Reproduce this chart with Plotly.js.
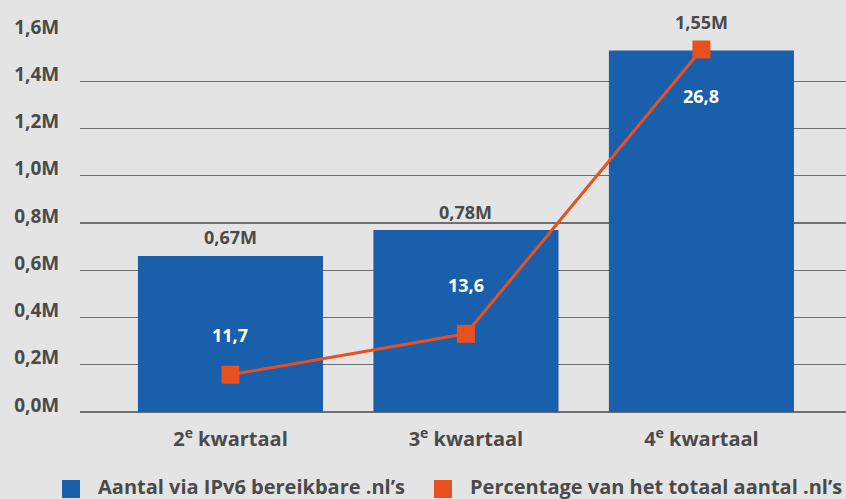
<!DOCTYPE html>
<html>
<head>
<meta charset="utf-8">
<script src="https://cdn.plot.ly/plotly-3.0.1.min.js"></script>
<style>
html,body{margin:0;padding:0;background:#e4e4e4;overflow:hidden;}
#chart{width:846px;height:499px;}
</style>
</head>
<body>
<div id="chart"></div>
<script>
// ---- data ----
const categories = ['2<sup>e</sup> kwartaal', '3<sup>e</sup> kwartaal', '4<sup>e</sup> kwartaal'];
const ipv6Millions = [0.66, 0.77, 1.53];          // bar heights
const countLabels = ['0,67M', '0,78M', '1,55M'];
const percentage = [11.7, 13.6, 26.8];
const percentLabels = ['11,7', '13,6', '26,8'];
const yTickVals = [0, 0.2, 0.4, 0.6, 0.8, 1.0, 1.2, 1.4, 1.6];
const yTickText = ['0,0M', '0,2M', '0,4M', '0,6M', '0,8M', '1,0M', '1,2M', '1,4M', '1,6M'];
const seriesNames = ["Aantal via IPv6 bereikbare .nl’s", "Percentage van het totaal aantal .nl’s"];

// ---- style ----
const BG = '#e4e4e4', BLUE = '#1a5fab', ORANGE = '#e8511f', TXT = '#4a4a4a', GRID = '#6e6e6e';
const FONT = 'Open Sans, sans-serif';
const countShift = [19, 18, 29];
const pctShift = [40, 49, -46];
const W = 846, H = 499, ML = 80, MR = 0, MT = 34, MB = 87;
const pw = W - ML - MR, ph = H - MT - MB;
const px = x => (x - ML) / pw;      // pixel -> paper (legend placement only)
const py = y => (H - MB - y) / ph;

const traces = [
  {type:'bar', x:categories, y:ipv6Millions, marker:{color:BLUE}, width:0.786,
   name:seriesNames[0], showlegend:false, hoverinfo:'skip'},
  {type:'scatter', mode:'lines+markers', x:categories, y:percentage, yaxis:'y2',
   name:seriesNames[1], line:{color:ORANGE, width:3}, marker:{color:ORANGE, symbol:'square', size:18},
   showlegend:false, hoverinfo:'skip', cliponaxis:false}
];

const annotations = [];
categories.forEach((c, i) => {
  annotations.push({x:c, y:ipv6Millions[i], xref:'x', yref:'y', text:countLabels[i],
    showarrow:false, yanchor:'middle', yshift:countShift[i],
    font:{family:FONT, size:18, color:TXT, weight:700}});
  annotations.push({x:c, y:percentage[i], xref:'x', yref:'y2', text:percentLabels[i],
    showarrow:false, yanchor:'middle', yshift:pctShift[i],
    font:{family:FONT, size:18, color:'#ffffff', weight:700}});
});

// custom legend placed like the reference
const legendItems = [
  {color:BLUE, sq:62, tx:96, name:seriesNames[0]},
  {color:ORANGE, sq:434, tx:468, name:seriesNames[1]}
];
const shapes = [];
legendItems.forEach(it => {
  shapes.push({type:'rect', xref:'paper', yref:'paper', x0:px(it.sq), x1:px(it.sq + 18),
    y0:py(480), y1:py(498), fillcolor:it.color, line:{width:0}, layer:'above'});
  annotations.push({xref:'paper', yref:'paper', x:px(it.tx), y:py(486), xanchor:'left',
    yanchor:'middle', text:it.name, showarrow:false,
    font:{family:FONT, size:20, color:TXT, weight:700}});
});

const layout = {
  width:W, height:H,
  paper_bgcolor:BG, plot_bgcolor:BG,
  margin:{l:ML, r:MR, t:MT, b:MB, pad:0},
  font:{family:FONT, size:19, color:TXT, weight:700},
  xaxis:{type:'category', range:[-0.639, 2.614], showgrid:false, zeroline:false,
    showline:false, ticks:'outside', ticklen:9, tickcolor:'rgba(0,0,0,0)',
    tickfont:{family:FONT, size:20, color:TXT, weight:700}, fixedrange:true},
  yaxis:{range:[0, 1.6], tickmode:'array', tickvals:yTickVals, ticktext:yTickText,
    showgrid:true, gridcolor:GRID, gridwidth:1.4, zeroline:true, zerolinecolor:GRID,
    zerolinewidth:1.4, ticks:'outside', ticklen:16, tickcolor:'rgba(0,0,0,0)',
    ticklabelshift:-7,
    tickfont:{family:FONT, size:19, color:TXT, weight:700}, fixedrange:true},
  yaxis2:{overlaying:'y', side:'right', range:[9.97, 27.52], showgrid:false,
    zeroline:false, showticklabels:false, ticks:'', fixedrange:true},
  showlegend:false,
  annotations:annotations,
  shapes:shapes,
  hovermode:false
};

Plotly.newPlot('chart', traces, layout, {displayModeBar:false, staticPlot:true});
</script>
</body>
</html>
